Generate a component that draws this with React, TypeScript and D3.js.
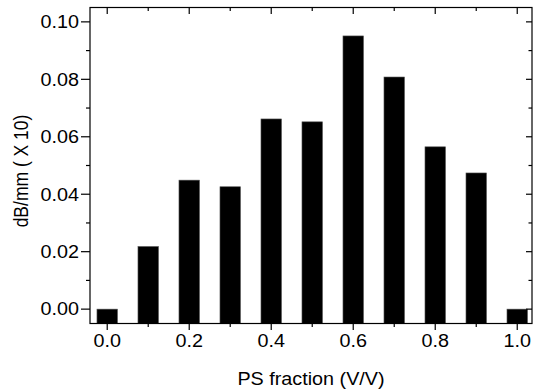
import React from "react";
import * as d3 from "d3";

const fractions = [0.0, 0.1, 0.2, 0.3, 0.4, 0.5, 0.6, 0.7, 0.8, 0.9, 1.0];
const values = [0.0, 0.0218, 0.0449, 0.0426, 0.0662, 0.0652, 0.0951, 0.0808, 0.0565, 0.0474, 0.0];
const xMajorTicks = [0, 0.2, 0.4, 0.6, 0.8, 1.0];
const xMinorTicks = [0.1, 0.3, 0.5, 0.7, 0.9];
const yMajorTicks = [0, 0.02, 0.04, 0.06, 0.08, 0.1];
const yMinorTicks = [0.01, 0.03, 0.05, 0.07, 0.09];
const xTitle = "PS fraction (V/V)";
const yTitle = "dB/mm ( X 10)";

const W = 533;
const H = 390;
const left = 90;
const right = 532;
const top = 7.5;
const bottom = 323.5;
const FONT = "'Liberation Sans', Arial, sans-serif";
const FS = 17.5;
const SX = 1.13;

export default function App() {
  const x = d3.scaleLinear().domain([-0.042, 1.036]).range([left, right]);
  const y = d3.scaleLinear().domain([-0.005, 0.105]).range([bottom, top]);
  const barW = x(0.05) - x(0);
  const f2 = d3.format(".2f");
  const f1 = d3.format(".1f");

  return (
    <svg
      width={W}
      height={H}
      style={{ position: "absolute", left: 0, top: 0, background: "#fff" }}
    >
      {fractions.map((f, i) => (
        <rect
          key={i}
          x={x(f) - barW / 2}
          y={y(values[i])}
          width={barW}
          height={bottom - y(values[i])}
          fill="#000"
          stroke="#555"
          strokeWidth={0.6}
        />
      ))}
      <rect
        x={left}
        y={top}
        width={right - left}
        height={bottom - top}
        fill="none"
        stroke="#000"
        strokeWidth={1.2}
      />
      {/* left axis ticks (outward) */}
      {yMajorTicks.map((t) => (
        <line key={"lm" + t} x1={left - 9} x2={left} y1={y(t)} y2={y(t)} stroke="#000" strokeWidth={1.2} />
      ))}
      {yMinorTicks.map((t) => (
        <line key={"ln" + t} x1={left - 4} x2={left} y1={y(t)} y2={y(t)} stroke="#000" strokeWidth={1.2} />
      ))}
      {/* right axis ticks (inward) */}
      {yMajorTicks.map((t) => (
        <line key={"rm" + t} x1={right - 6} x2={right} y1={y(t)} y2={y(t)} stroke="#000" strokeWidth={1.2} />
      ))}
      {yMinorTicks.map((t) => (
        <line key={"rn" + t} x1={right - 3.5} x2={right} y1={y(t)} y2={y(t)} stroke="#000" strokeWidth={1.2} />
      ))}
      {/* bottom axis ticks (outward) */}
      {xMajorTicks.map((t) => (
        <line key={"bm" + t} x1={x(t)} x2={x(t)} y1={bottom} y2={bottom + 6.5} stroke="#000" strokeWidth={1.2} />
      ))}
      {xMinorTicks.map((t) => (
        <line key={"bn" + t} x1={x(t)} x2={x(t)} y1={bottom} y2={bottom + 3.5} stroke="#000" strokeWidth={1.2} />
      ))}
      {/* top axis ticks (inward) */}
      {xMajorTicks.map((t) => (
        <line key={"tm" + t} x1={x(t)} x2={x(t)} y1={top} y2={top + 6.5} stroke="#000" strokeWidth={1.2} />
      ))}
      {xMinorTicks.map((t) => (
        <line key={"tn" + t} x1={x(t)} x2={x(t)} y1={top} y2={top + 3.5} stroke="#000" strokeWidth={1.2} />
      ))}
      {/* y tick labels */}
      {yMajorTicks.map((t) => (
        <text
          key={"yl" + t}
          transform={`translate(79,${y(t) + 6.3}) scale(${SX},1)`}
          textAnchor="end"
          fontFamily={FONT}
          fontSize={FS}
          fill="#000"
        >
          {f2(t)}
        </text>
      ))}
      {/* x tick labels */}
      {xMajorTicks.map((t) => (
        <text
          key={"xl" + t}
          transform={`translate(${x(t)},347) scale(${SX},1)`}
          textAnchor="middle"
          fontFamily={FONT}
          fontSize={FS}
          fill="#000"
        >
          {f1(t)}
        </text>
      ))}
      <text
        transform={`translate(${(left + right) / 2},385) scale(${SX},1)`}
        textAnchor="middle"
        fontFamily={FONT}
        fontSize={FS}
        fill="#000"
      >
        {xTitle}
      </text>
      <text
        transform={`translate(28,171) scale(${SX},1) rotate(-90)`}
        textAnchor="middle"
        fontFamily={FONT}
        fontSize={FS}
        fill="#000"
      >
        {yTitle}
      </text>
    </svg>
  );
}
